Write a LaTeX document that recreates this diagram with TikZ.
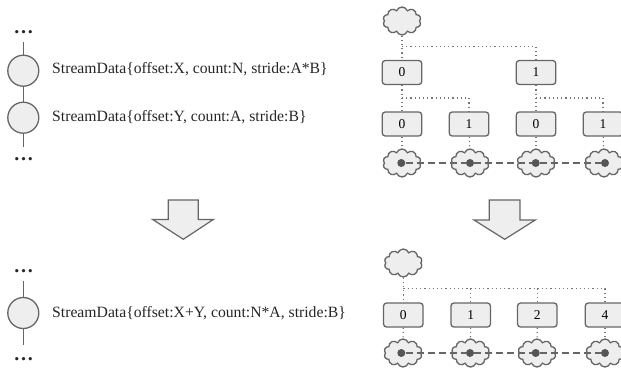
\documentclass[tikz,border=0pt]{standalone}
\usepackage{fontspec}
\setmainfont{Liberation Serif}
\usetikzlibrary{shapes.symbols,shapes.geometric}
\definecolor{edgegray}{HTML}{666666}
\definecolor{dotgray}{HTML}{777777}
\definecolor{soft}{HTML}{EEEEEE}
\definecolor{ink}{HTML}{555555}
\tikzset{
 x=1pt,y=-1pt,
 stream/.style={circle,draw=edgegray,fill=soft,line width=1.3pt,minimum size=31pt,inner sep=0pt},
 streamtext/.style={anchor=west,inner sep=0pt,font=\fontsize{15.7}{18}\selectfont,text=black!85},
 moremark/.style={inner sep=0pt,font=\bfseries\fontsize{20}{20}\selectfont,text=black!85},
 linkline/.style={draw=edgegray,line width=1.3pt},
 slot/.style={draw=edgegray,fill=soft,rounded corners=3pt,line width=1.3pt,minimum width=39.5pt,minimum height=24pt,inner sep=0pt,font=\fontsize{13.5}{15}\selectfont},
 puff/.style={cloud,cloud puffs=10,cloud puff arc=140,aspect=1.3,draw=edgegray,fill=soft,line width=1.3pt,minimum width=38pt,minimum height=28pt,inner sep=0pt},
 hub/.style={circle,fill=ink,minimum size=8pt,inner sep=0pt},
 dotline/.style={draw=dotgray,line width=1.2pt,dash pattern=on 1.2pt off 3pt},
 dashline/.style={draw=edgegray,line width=1.3pt,dash pattern=on 7pt off 4pt},
 bigarrow/.style={draw=edgegray,fill=soft,line width=1.2pt,line join=miter},
}
\begin{document}
\begin{tikzpicture}
\useasboundingbox (0,0) rectangle (621,369);
\clip (0,0) rectangle (621,369);
% left column
\node[moremark] (m1) at (23.5,32.5) {…};
\node[stream] (s1) at (23.3,70.7) {};
\node[stream] (s2) at (23.3,117.7) {};
\node[moremark] (m2) at (23.5,159.5) {…};
\coordinate (e1) at (23.3,41.7);
\coordinate (e2) at (23.3,147.3);
\draw[linkline] (e1) -- (s1) (s1) -- (s2) (s2) -- (e2);
\node[streamtext] (t1) at (52,69) {StreamData\{offset:X, count:N, stride:A*B\}};
\node[streamtext] (t2) at (52,117) {StreamData\{offset:Y, count:A, stride:B\}};
\node[moremark] (m3) at (23.5,271.5) {…};
\node[stream] (s3) at (23.3,313) {};
\node[moremark] (m4) at (23.5,359.5) {…};
\coordinate (e3) at (23.3,281);
\coordinate (e4) at (23.3,345);
\draw[linkline] (e3) -- (s3) (s3) -- (e4);
\node[streamtext] (t3) at (52,313) {StreamData\{offset:X+Y, count:N*A, stride:B\}};
% arrows
\draw[bigarrow] (168.3,200) -- (198.3,200) -- (198.3,219.5) -- (213.3,219.5) -- (183.3,239.3) -- (152.7,219.5) -- (168.3,219.5) -- cycle;
\draw[bigarrow] (489.3,200) -- (520,200) -- (520,220) -- (535.3,220) -- (504.7,239.3) -- (474,220) -- (489.3,220) -- cycle;
% top right tree
\node[puff] (c0) at (402,21) {};
\node[slot] (a0) at (402,72.5) {0};
\node[slot] (a1) at (536,72.5) {1};
\node[slot] (b0) at (402,124) {0};
\node[slot] (b1) at (469,124) {1};
\node[slot] (b2) at (536,124) {0};
\node[slot] (b3) at (603,124) {1};
\foreach \i/\x in {0/402,1/470,2/536,3/604}{
  \node[puff] (k\i) at (\x,163) {};
}
\foreach \i/\x in {0/401.3,1/470,2/535.7,3/605}{
  \node[hub] (d\i) at (\x,163) {};
}
\coordinate (j0) at (402,46.4);
\coordinate (j1) at (402,97.9);
\coordinate (j2) at (536,97.9);
\draw[dotline] (c0) -- (a0);
\draw[dotline] (j0) -| (a1);
\draw[dotline] (a0) -- (b0);
\draw[dotline] (j1) -| (b1);
\draw[dotline] (a1) -- (b2);
\draw[dotline] (j2) -| (b3);
\foreach \i in {0,1,2,3}{ \draw[dotline] (b\i) -- (k\i); }
\draw[dashline] (d0) -- (d1) -- (d2) -- (d3);
% bottom right tree
\node[puff] (c1) at (403.3,263) {};
\node[slot] (f0) at (403.3,315) {0};
\node[slot] (f1) at (470.7,315) {1};
\node[slot] (f2) at (537.3,315) {2};
\node[slot] (f3) at (605,315) {4};
\foreach \i/\x in {0/403,1/470.5,2/537,3/605}{
  \node[puff] (n\i) at (\x,353) {};
}
\foreach \i/\x in {0/401.3,1/470,2/535.7,3/605}{
  \node[hub] (g\i) at (\x,353) {};
}
\coordinate (j3) at (403.3,288.4);
\draw[dotline] (c1) -- (f0);
\draw[dotline] (j3) -| (f3);
\draw[dotline] (j3 -| f1) -- (f1);
\draw[dotline] (j3 -| f2) -- (f2);
\foreach \i in {0,1,2,3}{ \draw[dotline] (f\i) -- (n\i); }
\draw[dashline] (g0) -- (g1) -- (g2) -- (g3);
\end{tikzpicture}
\end{document}
